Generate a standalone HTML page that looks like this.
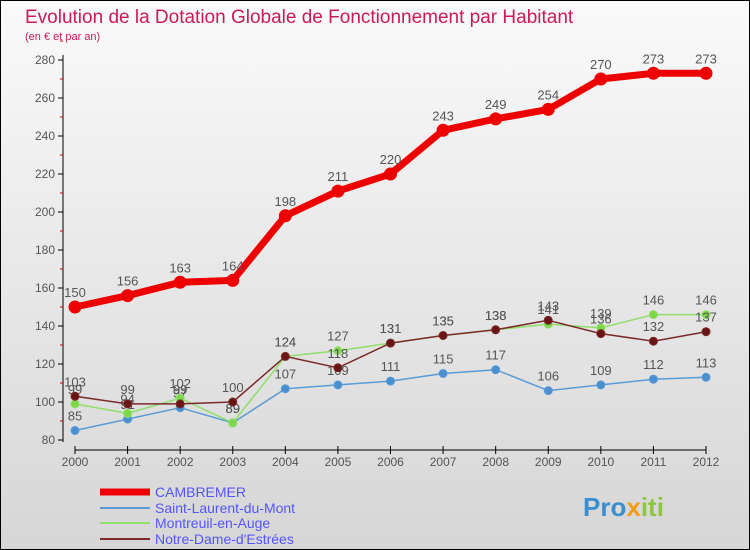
<!DOCTYPE html>
<html><head><meta charset="utf-8"><style>
body{margin:0}
svg{display:block;font-family:"Liberation Sans",sans-serif}
</style></head><body>
<svg width="750" height="550">
<defs><linearGradient id="bg" x1="0" y1="0" x2="0" y2="1"><stop offset="0" stop-color="#fafafa"/><stop offset="1" stop-color="#d6d6d6"/></linearGradient></defs>
<rect x="0.5" y="0.5" width="749" height="549" fill="url(#bg)" stroke="#000"/>
<text x="25" y="23" font-size="19" fill="#cc1a55">Evolution de la Dotation Globale de Fonctionnement par Habitant</text>
<text x="25" y="40" font-size="11" fill="#cc1a55">(en € et par an)</text>
<g id="axes"></g><g id="plot"></g>
<g font-size="14">
<line x1="100" y1="492" x2="150" y2="492" stroke="#e00" stroke-width="7"/>
<text x="155" y="497" fill="#55f">CAMBREMER</text>
<line x1="100" y1="508" x2="150" y2="508" stroke="#5a9bd5" stroke-width="2"/>
<text x="155" y="513" fill="#55f">Saint-Laurent-du-Mont</text>
<line x1="100" y1="523" x2="150" y2="523" stroke="#8fdf6a" stroke-width="2"/>
<text x="155" y="528" fill="#55f">Montreuil-en-Auge</text>
<line x1="100" y1="539" x2="150" y2="539" stroke="#7a2a2a" stroke-width="2"/>
<text x="155" y="544" fill="#55f">Notre-Dame-d'Estrées</text>
</g>
<text x="583" y="516" font-size="26" font-weight="bold" fill="#3a8fd0">Pro<tspan fill="#f39c12">x</tspan><tspan fill="#8dc63f">iti</tspan></text>
</svg>
<script>
const years=[2000,2001,2002,2003,2004,2005,2006,2007,2008,2009,2010,2011,2012];
const yTicks=[80,100,120,140,160,180,200,220,240,260,280];
const cambremer=[150,156,163,164,198,211,220,243,249,254,270,273,273];
const saintLaurent=[85,91,97,89,107,109,111,115,117,106,109,112,113];
const montreuil=[99,94,102,89,124,127,131,135,138,141,139,146,146];
const notreDame=[103,99,99,100,124,118,131,135,138,143,136,132,137];
const NS="http://www.w3.org/2000/svg";
const xs=i=>75+i*(706-75)/12;
const ys=v=>440-(v-80)*1.9;
function mk(t,a,p){const e=document.createElementNS(NS,t);for(const k in a)e.setAttribute(k,a[k]);p.appendChild(e);return e;}
const ax=document.getElementById('axes'),pl=document.getElementById('plot');
const yl=mk('line',{x1:63,y1:55,x2:63,y2:442,stroke:'#000'},ax);


yTicks.forEach(v=>{mk('line',{x1:58,x2:63,y1:ys(v),y2:ys(v),stroke:'#000'},ax);
mk('line',{x1:60,x2:63,y1:ys(v+10),y2:ys(v+10),stroke:'#d00'},ax);
const t=mk('text',{x:55,y:ys(v)+4,'text-anchor':'end','font-size':12,fill:'#555'},ax);t.textContent=v;

});
const xl=mk('line',{x1:75,y1:450,x2:706,y2:450,stroke:'#000'},ax);


years.forEach((y,i)=>{mk('line',{x1:xs(i),x2:xs(i),y1:446,y2:454,stroke:'#000'},ax);
const t=mk('text',{x:xs(i),y:466,'text-anchor':'middle','font-size':12,fill:'#555'},ax);t.textContent=y;

});
function series(d,col,w,r,name,dot){
const g=mk('g',{},pl);


mk('polyline',{points:d.map((v,i)=>xs(i)+','+ys(v)).join(' '),fill:'none',stroke:col,'stroke-width':w,'stroke-linejoin':'round'},g);
d.forEach((v,i)=>{const c=mk('circle',{cx:xs(i),cy:ys(v),r:r,fill:dot,stroke:col,'stroke-width':1},g);


const t=mk('text',{x:xs(i),y:ys(v)-10,'text-anchor':'middle','font-size':13,fill:'#555'},g);t.textContent=v;

});}
series(saintLaurent,'#5a9bd5',1.5,4,'series-saint-laurent','#4a90d0');
series(montreuil,'#8fdf6a',1.5,4,'series-montreuil','#7dd848');
series(notreDame,'#7a2a2a',1.5,4,'series-notre-dame','#6a1515');
series(cambremer,'#ee0000',7,6,'series-cambremer','#ee0000');
</script>
</body></html>
